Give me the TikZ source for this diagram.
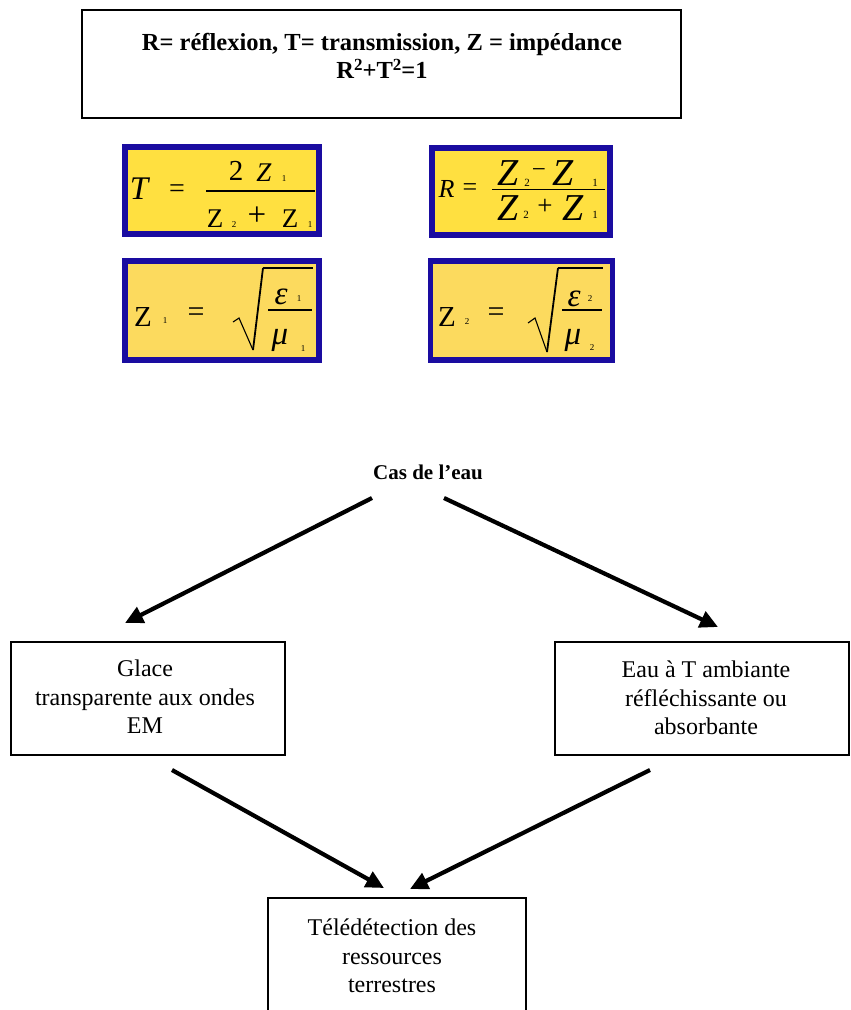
\documentclass[tikz,border=0pt]{standalone}
\usepackage{fontspec}
\setmainfont{Liberation Serif}
\usetikzlibrary{arrows.meta}
\definecolor{fblue}{HTML}{1A0CA0}
\definecolor{fyel}{HTML}{FFE040}
\definecolor{fyelz}{HTML}{FCDA5E}
\newcommand{\fsz}[1]{\fontsize{#1}{#1}\selectfont}
\begin{document}
\begin{tikzpicture}[x=1pt,y=-1pt,
  plainbox/.style={draw=black,line width=2pt,inner sep=0pt},
  fbox/.style={draw=fblue,line width=5.5pt,fill=fyel,inner sep=0pt},
  txt/.style={align=center,font=\fontsize{24}{28.5}\selectfont,inner sep=0pt},
  ft/.style={inner sep=0pt,anchor=center},
  sb/.style={ft,font=\fsz{9}},
  sbb/.style={ft,font=\fsz{11}},
  fbar/.style={line width=1.4pt},
  rad/.style={line width=1.1pt,line join=miter},
  arr/.style={line width=4.2pt,-{Triangle[length=18pt,width=17pt]}}]
\useasboundingbox (0,0) rectangle (851,1010);
\fill[white] (0,0) rectangle (851,1010);
% top box
\node[plainbox,minimum width=599,minimum height=108] (defs) at (381.5,64) {};
\node[txt,font=\fontsize{24.5}{28}\selectfont\bfseries] (defstext) at (382,56) {R= réflexion, T= transmission, Z = impédance\\R\raisebox{8pt}{\fsz{17}2}+T\raisebox{8pt}{\fsz{17}2}=1};
% ---------- T box
\node[fbox,minimum width=194,minimum height=87] (tbox) at (222,190.5) {};
\node[ft,font=\fsz{33}\itshape] (tT) at (139,189) {T};
\node[ft,font=\fsz{28}] (teq) at (177,191) {=};
\node[ft,font=\fsz{29}] (tn2) at (236,171) {2};
\node[ft,font=\fsz{27}\itshape] (tnZ) at (264,173) {Z};
\node[sb] (tn1) at (284,179) {1};
\coordinate (tbl) at (206,191); \coordinate (tbr) at (315,191);
\draw[fbar] (tbl) -- (tbr);
\node[ft,font=\fsz{27}] (tdZa) at (215,219) {Z};
\node[sb] (td2) at (234,225) {2};
\node[ft,font=\fsz{33}] (tdp) at (257,216) {+};
\node[ft,font=\fsz{27}] (tdZb) at (290,219) {Z};
\node[sb] (td1) at (310,225) {1};
% ---------- R box
\node[fbox,minimum width=178,minimum height=87] (rbox) at (521,191.5) {};
\node[ft,font=\fsz{26}\itshape] (rR) at (446.5,188.5) {R};
\node[ft,font=\fsz{26}] (req) at (470,190) {=};
\node[ft,font=\fsz{38}\itshape] (rnZa) at (508,173) {Z};
\node[sbb] (rn2) at (527,183) {2};
\node[ft,font=\fsz{25}] (rnm) at (539,173) {\textminus};
\node[ft,font=\fsz{38}\itshape] (rnZb) at (563,173) {Z};
\node[sbb] (rn1) at (595,183) {1};
\coordinate (rbl) at (492,189.5); \coordinate (rbr) at (605,189.5);
\draw[fbar] (rbl) -- (rbr);
\node[ft,font=\fsz{38}\itshape] (rdZa) at (508,208) {Z};
\node[sbb] (rd2) at (526,215) {2};
\node[ft,font=\fsz{27}] (rdp) at (545,207) {+};
\node[ft,font=\fsz{38}\itshape] (rdZb) at (573,208) {Z};
\node[sbb] (rd1) at (595,215) {1};
% ---------- Z1 box
\node[fbox,fill=fyelz,minimum width=194,minimum height=99] (zobox) at (222,310.5) {};
\node[ft,font=\fsz{29}] (zoZ) at (143,316.5) {Z};
\node[sb] (zo1) at (165,321) {1};
\node[ft,font=\fsz{30}] (zoeq) at (196,315) {=};
\coordinate (zor0) at (233,322); \coordinate (zor1) at (239,318);
\coordinate (zor2) at (253,350); \coordinate (zor3) at (263,268);
\coordinate (zor4) at (313,268);
\draw[rad] (zor0) -- (zor1) -- (zor2);
\draw[line width=1.8pt] (zor2) -- (zor3);
\draw[rad] (zor3) -- (zor4);
\node[ft,font=\fsz{33}\itshape] (zoe) at (281,297) {ε};
\node[sb] (zoe1) at (299,299) {1};
\coordinate (zobl) at (268,310); \coordinate (zobr) at (312,310);
\draw[line width=1.2pt] (zobl) -- (zobr);
\node[ft,font=\fsz{33}\itshape] (zom) at (280,340) {μ};
\node[sb] (zom1) at (303,349) {1};
% ---------- Z2 box
\node[fbox,fill=fyelz,minimum width=182,minimum height=99] (ztbox) at (521.5,310.5) {};
\node[ft,font=\fsz{29}] (ztZ) at (447,317) {Z};
\node[sb] (zt2) at (467,322) {2};
\node[ft,font=\fsz{30}] (zteq) at (496,315) {=};
\coordinate (ztr0) at (528,323); \coordinate (ztr1) at (535,318);
\coordinate (ztr2) at (547,352); \coordinate (ztr3) at (558,268);
\coordinate (ztr4) at (603,268);
\draw[rad] (ztr0) -- (ztr1) -- (ztr2);
\draw[line width=1.8pt] (ztr2) -- (ztr3);
\draw[rad] (ztr3) -- (ztr4);
\node[ft,font=\fsz{33}\itshape] (zte) at (574,299) {ε};
\node[sb] (zte2) at (590,299) {2};
\coordinate (ztbl) at (562,310); \coordinate (ztbr) at (602,310);
\draw[line width=1.2pt] (ztbl) -- (ztbr);
\node[ft,font=\fsz{33}\itshape] (ztm) at (573,340) {μ};
\node[sb] (ztm2) at (592,348) {2};
% ---------- flow chart
\node[txt,font=\fsz{21}\bfseries] (cas) at (428,472) {Cas de l’eau};
\node[plainbox,minimum width=274,minimum height=113] (glace) at (148,698.5) {};
\node[txt] (glacet) at (145,697) {Glace\\transparente aux ondes\\EM};
\node[plainbox,minimum width=294,minimum height=113] (eau) at (702,698.5) {};
\node[txt] (eaut) at (706,698) {Eau à T ambiante\\réfléchissante ou\\absorbante};
\node[plainbox,minimum width=258,minimum height=122] (tele) at (397,959) {};
\node[txt] (telet) at (392,956) {Télédétection des\\ressources\\terrestres};
\coordinate (s1) at (372,498); \coordinate (e1) at (125,623);
\coordinate (s2) at (444,498); \coordinate (e2) at (718,627);
\coordinate (s3) at (172,770); \coordinate (e3) at (384,888);
\coordinate (s4) at (650,770); \coordinate (e4) at (410,889);
\draw[arr] (s1) -- (e1);
\draw[arr] (s2) -- (e2);
\draw[arr] (s3) -- (e3);
\draw[arr] (s4) -- (e4);
\end{tikzpicture}
\end{document}
